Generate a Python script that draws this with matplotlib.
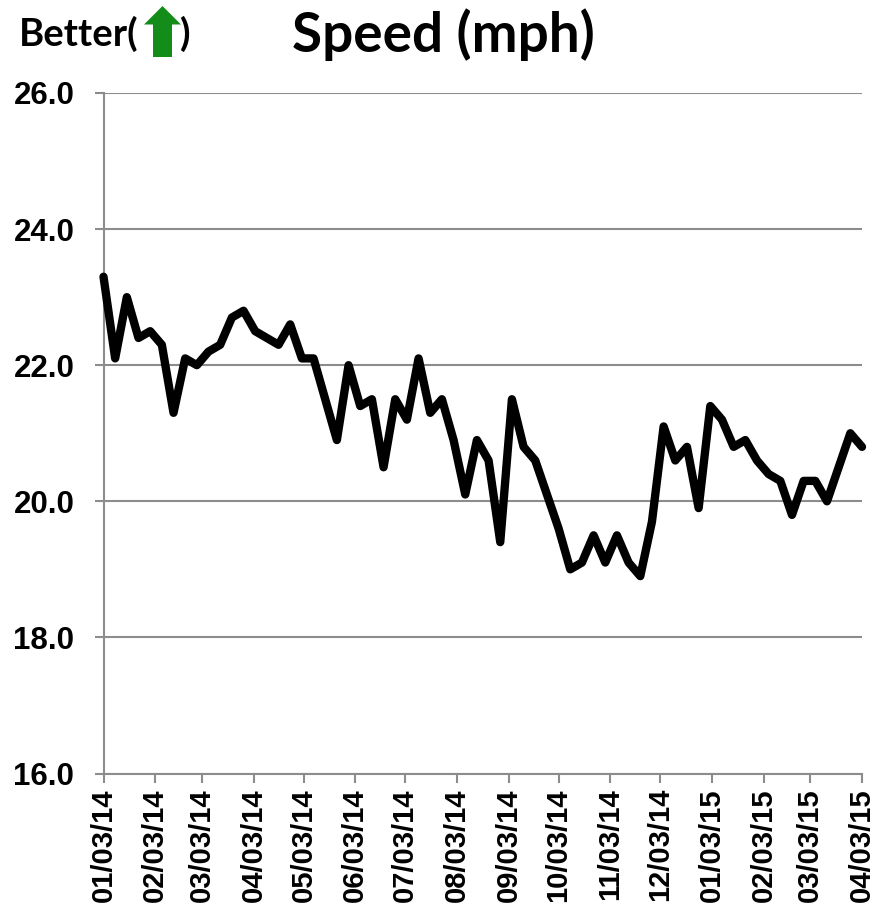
"""Weekly speed chart, Jan 2014 - Apr 2015."""
import matplotlib
matplotlib.use("Agg")
import matplotlib.dates as mdates
import matplotlib.pyplot as plt
import pandas as pd
from matplotlib.patches import Polygon

title = "Speed (mph)"
better_left = "Better("
better_right = ")"
start_date = "2014-01-03"
end_date = "2015-04-03"
speed = [
    23.3, 22.1, 23.0, 22.4, 22.5, 22.3, 21.3, 22.1, 22.0, 22.2, 22.3,
    22.7, 22.8, 22.5, 22.4, 22.3, 22.6, 22.1, 22.1, 21.5, 20.9, 22.0,
    21.4, 21.5, 20.5, 21.5, 21.2, 22.1, 21.3, 21.5, 20.9, 20.1, 20.9,
    20.6, 19.4, 21.5, 20.8, 20.6, 20.1, 19.6, 19.0, 19.1, 19.5, 19.1,
    19.5, 19.1, 18.9, 19.7, 21.1, 20.6, 20.8, 19.9, 21.4, 21.2, 20.8,
    20.9, 20.6, 20.4, 20.3, 19.8, 20.3, 20.3, 20.0, 20.5, 21.0, 20.8,
]
y_ticks = [16, 18, 20, 22, 24, 26]

W, H = 873, 907
GREY = "#8c8c8c"
ARIAL = "Liberation Sans"
CALIBRI = "Lato"

dates = pd.date_range(start_date, periods=len(speed), freq="7D")
months = pd.date_range(start_date, end_date, freq=pd.DateOffset(months=1))

fig = plt.figure(figsize=(W / 100, H / 100), dpi=100)
ax = fig.add_axes([103.5 / W, 1 - 773.5 / H, (862 - 103.5) / W, (773.5 - 93) / H])

ax.plot(dates, speed, color="black", lw=6, solid_capstyle="round",
        solid_joinstyle="round", clip_on=False, zorder=5)

ax.set_xlim(dates[0], dates[-1])
ax.set_ylim(16, 26)
ax.set_yticks(y_ticks)
ax.set_yticklabels([f"{v:.1f}" for v in y_ticks], fontfamily=ARIAL,
                   fontweight="bold", fontsize=22.5)
ax.set_xticks(months)
ax.xaxis.set_major_formatter(mdates.DateFormatter("%m/%d/%y"))
plt.setp(ax.get_xticklabels(), rotation=90, fontfamily=ARIAL,
         fontweight="bold", fontsize=21)
ax.tick_params(axis="both", color=GREY, width=1.5, length=6.5)
ax.tick_params(axis="x", pad=4)
ax.tick_params(axis="y", pad=14.5)

ax.grid(axis="y", color=GREY, lw=1.5)
ax.set_axisbelow(True)
for side in ("top", "right"):
    ax.spines[side].set_visible(False)
for side in ("left", "bottom"):
    ax.spines[side].set_color(GREY)
    ax.spines[side].set_linewidth(1.5)

fig.text(292 / W, 1 - 52 / H, title, fontfamily=CALIBRI, fontweight="bold",
         fontsize=39.5, ha="left", va="baseline")
fig.text(19 / W, 1 - 46 / H, better_left, fontfamily=CALIBRI, fontweight="bold",
         fontsize=27.5, ha="left", va="baseline")
fig.text(180 / W, 1 - 46 / H, better_right, fontfamily=CALIBRI, fontweight="bold",
         fontsize=27.5, ha="left", va="baseline")

# green "better" arrow, placed in pixels
arrow_px = [(162.5, 6), (181, 24.5), (172, 24.5), (172, 57),
            (153, 57), (153, 24.5), (144, 24.5)]
fig.add_artist(Polygon([(x / W, 1 - y / H) for x, y in arrow_px], closed=True,
                       transform=fig.transFigure, facecolor="#138c1a",
                       edgecolor="none"))

fig.savefig("out.png", dpi=100)
